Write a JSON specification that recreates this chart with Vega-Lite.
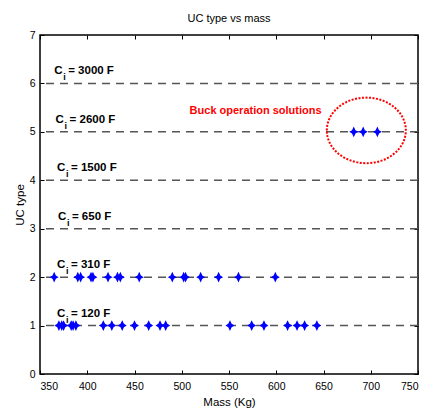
{
  "$schema": "https://vega.github.io/schema/vega-lite/v6.json",
  "width": 378,
  "height": 339,
  "autosize": "none",
  "padding": {"left": 40, "top": 35, "right": 9, "bottom": 38},
  "background": "white",
  "title": {"text": "UC type vs mass", "fontSize": 11, "fontWeight": "normal", "font": "Liberation Sans", "color": "black", "offset": 6},
  "config": {
    "font": "Liberation Sans",
    "view": {"stroke": "black", "strokeWidth": 1.5},
    "axis": {"labelColor": "black", "titleColor": "black", "labelFontSize": 10.5, "titleFontSize": 11.5, "titleFontWeight": "normal", "domain": false, "grid": false, "tickColor": "black", "labelFont": "Liberation Sans", "titleFont": "Liberation Sans"}
  },
  "datasets": {
    "pts": [
      {"mass": 370, "uc": 1}, {"mass": 373, "uc": 1}, {"mass": 375, "uc": 1}, {"mass": 383, "uc": 1}, {"mass": 385, "uc": 1}, {"mass": 388, "uc": 1},
      {"mass": 417, "uc": 1}, {"mass": 426, "uc": 1}, {"mass": 437, "uc": 1}, {"mass": 450, "uc": 1}, {"mass": 465, "uc": 1}, {"mass": 477, "uc": 1},
      {"mass": 483, "uc": 1}, {"mass": 551, "uc": 1}, {"mass": 574, "uc": 1}, {"mass": 587, "uc": 1}, {"mass": 612, "uc": 1}, {"mass": 622, "uc": 1},
      {"mass": 630, "uc": 1}, {"mass": 643, "uc": 1},
      {"mass": 365, "uc": 2}, {"mass": 390, "uc": 2}, {"mass": 393, "uc": 2}, {"mass": 404, "uc": 2}, {"mass": 406, "uc": 2}, {"mass": 422, "uc": 2},
      {"mass": 432, "uc": 2}, {"mass": 435, "uc": 2}, {"mass": 455, "uc": 2}, {"mass": 490, "uc": 2}, {"mass": 502, "uc": 2}, {"mass": 504, "uc": 2},
      {"mass": 520, "uc": 2}, {"mass": 539, "uc": 2}, {"mass": 560, "uc": 2}, {"mass": 599, "uc": 2},
      {"mass": 682, "uc": 5}, {"mass": 692, "uc": 5}, {"mass": 707, "uc": 5}
    ],
    "lines": [
      {"uc": 1, "xlab": 368, "cap": "= 120 F"},
      {"uc": 2, "xlab": 368, "cap": "= 310 F"},
      {"uc": 3, "xlab": 369, "cap": "= 650 F"},
      {"uc": 4, "xlab": 368, "cap": "= 1500 F"},
      {"uc": 5, "xlab": 366.5, "cap": "= 2600 F"},
      {"uc": 6, "xlab": 365, "cap": "= 3000 F"}
    ],
    "ell": [{"mass": 695.3, "uc": 5.03}],
    "note": [{"mass": 648, "uc": 5.37, "text": "Buck operation solutions"}]
  },
  "resolve": {"axis": {"x": "independent", "y": "independent"}},
  "layer": [
    {
      "data": {"name": "lines"},
      "mark": {"type": "rule", "stroke": "#555555", "strokeWidth": 1.5, "strokeDash": [8, 6]},
      "encoding": {
        "y": {"field": "uc", "type": "quantitative", "scale": {"domain": [0, 7], "nice": false, "zero": false},
              "axis": {"orient": "right", "labels": false, "title": null, "values": [0,1,2,3,4,5,6,7], "tickSize": -4}}
      }
    },
    {
      "data": {"name": "ell"},
      "mark": {"type": "point", "filled": false, "shape": "M-1,0A1,0.83 0 1,1 1,0A1,0.83 0 1,1 -1,0Z", "size": 6241, "stroke": "#ff0000", "strokeWidth": 2, "strokeDash": [2, 1.5], "opacity": 1},
      "encoding": {
        "x": {"field": "mass", "type": "quantitative", "scale": {"domain": [350, 750], "nice": false, "zero": false},
              "axis": {"orient": "top", "labels": false, "title": null, "values": [350,400,450,500,550,600,650,700,750], "tickSize": -4}},
        "y": {"field": "uc", "type": "quantitative", "axis": null}
      }
    },
    {
      "data": {"name": "pts"},
      "mark": {"type": "point", "filled": true, "shape": "M0,-1.2L0.38,-0.38L1,0L0.38,0.38L0,1.2L-0.38,0.38L-1,0L-0.38,-0.38Z", "size": 81, "color": "#0000ff", "opacity": 1},
      "encoding": {
        "x": {"field": "mass", "type": "quantitative", "scale": {"domain": [350, 750], "nice": false, "zero": false},
              "axis": {"orient": "bottom", "title": "Mass (Kg)", "values": [350,400,450,500,550,600,650,700,750], "tickSize": -4, "labelPadding": 11, "titlePadding": 5}},
        "y": {"field": "uc", "type": "quantitative", "scale": {"domain": [0, 7], "nice": false, "zero": false},
              "axis": {"orient": "left", "title": "UC type", "values": [0,1,2,3,4,5,6,7], "tickSize": -4, "labelPadding": 9, "titlePadding": 4}}
      }
    },
    {
      "data": {"name": "note"},
      "mark": {"type": "text", "align": "right", "baseline": "alphabetic", "color": "#ff0000", "fontWeight": "bold", "fontSize": 11},
      "encoding": {
        "x": {"field": "mass", "type": "quantitative", "axis": null},
        "y": {"field": "uc", "type": "quantitative", "axis": null},
        "text": {"field": "text"}
      }
    },
    {
      "data": {"name": "lines"},
      "mark": {"type": "text", "text": "C", "align": "left", "baseline": "alphabetic", "dy": -9, "color": "black", "fontWeight": "bold", "fontSize": 11.5},
      "encoding": {
        "x": {"field": "xlab", "type": "quantitative", "axis": null},
        "y": {"field": "uc", "type": "quantitative", "axis": null}
      }
    },
    {
      "data": {"name": "lines"},
      "mark": {"type": "text", "text": "i", "align": "left", "baseline": "alphabetic", "dx": 9, "dy": -3, "color": "black", "fontWeight": "bold", "fontSize": 9},
      "encoding": {
        "x": {"field": "xlab", "type": "quantitative", "axis": null},
        "y": {"field": "uc", "type": "quantitative", "axis": null}
      }
    },
    {
      "data": {"name": "lines"},
      "mark": {"type": "text", "align": "left", "baseline": "alphabetic", "dx": 14, "dy": -9, "color": "black", "fontWeight": "bold", "fontSize": 11.5},
      "encoding": {
        "x": {"field": "xlab", "type": "quantitative", "axis": null},
        "y": {"field": "uc", "type": "quantitative", "axis": null},
        "text": {"field": "cap"}
      }
    }
  ]
}
